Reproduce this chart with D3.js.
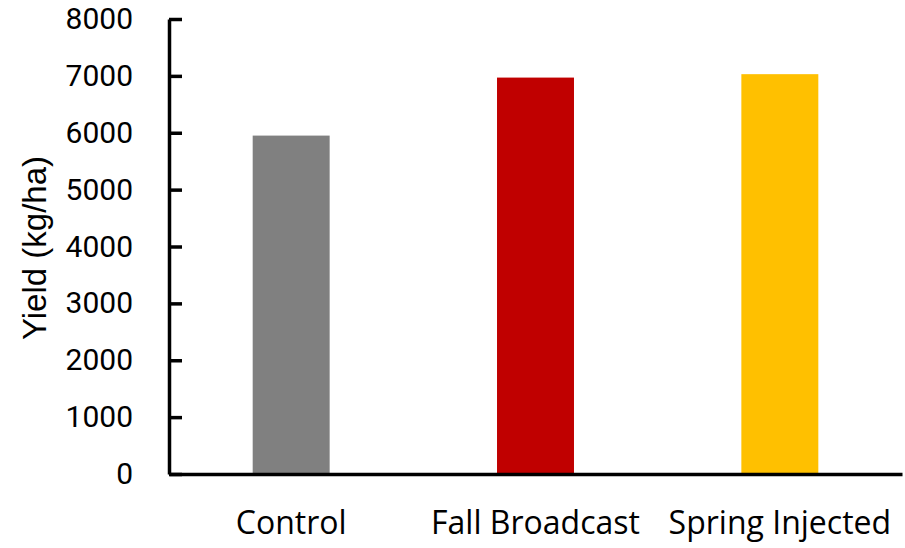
<!DOCTYPE html>
<html>
<head>
<meta charset="utf-8">
<script src="https://cdn.jsdelivr.net/npm/d3@7"></script>
<style>
  html, body { margin: 0; padding: 0; background: #fff; }
  svg { display: block; }
</style>
</head>
<body>
<svg id="chart" width="905" height="548"></svg>
<script>
// Grain yield by nitrogen application treatment
const categories = ["Control", "Fall Broadcast", "Spring Injected"];
const yieldValues = [5950, 6970, 7030];
const barColors = ["#808080", "#C00000", "#FFC000"];
const yTicks = [0, 1000, 2000, 3000, 4000, 5000, 6000, 7000, 8000];

const svg = d3.select("#chart");
const plot = { left: 169, right: 902, top: 19, bottom: 474 };

const x = d3.scaleBand()
  .domain(categories)
  .range([plot.left, plot.right])
  .paddingInner(0.685)
  .paddingOuter(0.3425);

const y = d3.scaleLinear()
  .domain([0, 8000])
  .range([plot.bottom, plot.top]);

// Bars
svg.append("g")
  .selectAll("rect")
  .data(categories)
  .join("rect")
  .attr("x", d => x(d))
  .attr("width", x.bandwidth())
  .attr("y", (d, i) => y(yieldValues[i]))
  .attr("height", (d, i) => y(0) - y(yieldValues[i]))
  .attr("fill", (d, i) => barColors[i]);

const labelFont = "'Open Sans', 'Noto Sans', sans-serif";

// Y axis with inward ticks
const yAxis = svg.append("g")
  .attr("transform", `translate(${plot.left},0)`)
  .call(d3.axisLeft(y)
    .tickValues(yTicks)
    .tickFormat(d3.format("d"))
    .tickSizeInner(-13)
    .tickSizeOuter(0)
    .tickPadding(36));
yAxis.selectAll("path, line").attr("stroke", "#000").attr("stroke-width", 3.5);
yAxis.selectAll("text")
  .attr("fill", "#000")
  .style("font-family", "Roboto, 'Open Sans', sans-serif")
  .style("font-size", "30px");

// X axis (baseline only, category labels below)
const xAxis = svg.append("g")
  .attr("transform", `translate(0,${plot.bottom})`)
  .call(d3.axisBottom(x)
    .tickSize(0)
    .tickPadding(37));
xAxis.select(".domain").attr("stroke", "#000").attr("stroke-width", 3.5);
xAxis.selectAll("text")
  .attr("fill", "#000")
  .style("font-family", labelFont)
  .style("font-size", "32px");

// Y axis title
svg.append("text")
  .attr("transform", "translate(46,248) rotate(-90)")
  .attr("text-anchor", "middle")
  .style("font-family", "'Liberation Sans', Arial, sans-serif")
  .style("font-size", "33px")
  .attr("fill", "#000")
  .text("Yield (kg/ha)");
</script>
</body>
</html>
